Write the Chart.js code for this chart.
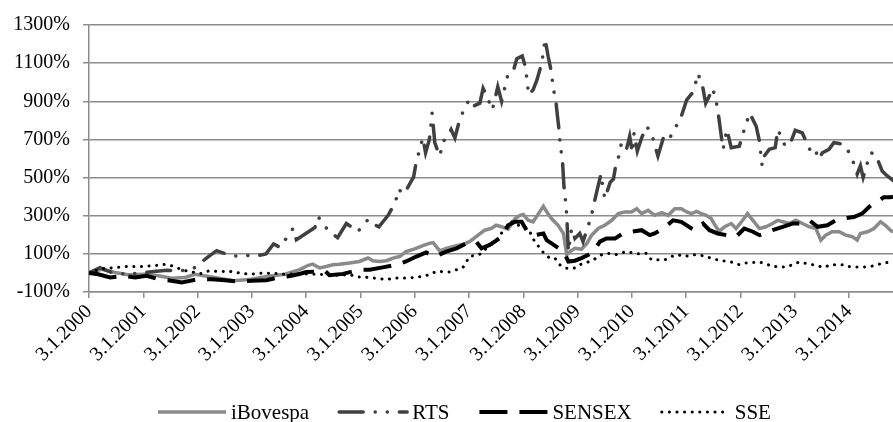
<!DOCTYPE html>
<html>
<head>
<meta charset="utf-8">
<script src="https://cdn.jsdelivr.net/npm/chart.js@4.4.1/dist/chart.umd.min.js"></script>
<style>
  body { margin: 0; background: #fff; }
  #wrap { width: 893px; height: 422px; position: relative; }
</style>
</head>
<body>
<div id="wrap"><canvas id="myChart"></canvas></div>
<script>
// series: [year as decimal, % change since 3.1.2000]
var seriesNames = ["iBovespa", "RTS", "SENSEX", "SSE"];
var tickYears = [2000, 2001, 2002, 2003, 2004, 2005, 2006, 2007, 2008, 2009, 2010, 2011, 2012, 2013, 2014];
var yTicks = [-100, 100, 300, 500, 700, 900, 1100, 1300];

var ibovespa = [[2000.00,0],[2000.23,19],[2000.48,2],[2000.72,-10],[2001.03,-7],[2001.28,-15],[2001.52,-28],[2001.77,-24],[2001.95,-7],[2002.26,-21],[2002.50,-33],[2002.66,-41],[2002.99,-33],[2003.36,-15],[2003.61,-7],[2003.88,17],[2004.04,40],[2004.12,46],[2004.25,26],[2004.37,34],[2004.49,43],[2004.61,46],[2004.80,52],[2004.98,60],[2005.14,78],[2005.23,64],[2005.35,60],[2005.48,64],[2005.60,78],[2005.72,86],[2005.84,112],[2006.00,126],[2006.15,143],[2006.27,155],[2006.34,159],[2006.46,116],[2006.58,129],[2006.70,138],[2006.89,150],[2007.01,164],[2007.13,190],[2007.29,224],[2007.41,233],[2007.50,250],[2007.60,242],[2007.72,230],[2007.85,285],[2007.94,302],[2008.00,306],[2008.09,276],[2008.18,268],[2008.28,311],[2008.37,349],[2008.43,320],[2008.52,285],[2008.64,250],[2008.74,207],[2008.80,95],[2008.86,112],[2008.95,129],[2009.07,124],[2009.17,155],[2009.26,198],[2009.38,233],[2009.50,250],[2009.63,276],[2009.75,311],[2009.87,320],[2009.99,320],[2010.09,337],[2010.18,311],[2010.30,328],[2010.42,302],[2010.55,316],[2010.67,302],[2010.79,337],[2010.91,337],[2011.01,320],[2011.10,311],[2011.19,323],[2011.28,311],[2011.37,302],[2011.46,285],[2011.55,242],[2011.61,219],[2011.71,242],[2011.83,259],[2011.92,233],[2012.04,276],[2012.13,311],[2012.23,276],[2012.35,233],[2012.47,242],[2012.59,259],[2012.69,276],[2012.78,268],[2012.90,259],[2013.02,276],[2013.14,259],[2013.27,242],[2013.39,233],[2013.48,172],[2013.57,198],[2013.69,216],[2013.82,216],[2013.94,198],[2014.06,190],[2014.15,172],[2014.21,207],[2014.34,216],[2014.46,233],[2014.58,268],[2014.67,250],[2014.76,224],[2014.81,215]];

var rts = [[2000.00,0],[2000.20,28],[2000.42,2],[2000.72,-7],[2001.03,2],[2001.43,14],[2001.67,10],[2001.83,19],[2001.95,28],[2002.17,79],[2002.35,117],[2002.50,102],[2002.66,88],[2002.87,93],[2003.06,88],[2003.26,100],[2003.40,152],[2003.52,134],[2003.76,234],[2003.82,174],[2004.16,238],[2004.22,294],[2004.31,262],[2004.40,224],[2004.58,185],[2004.74,259],[2004.86,237],[2004.95,216],[2005.14,280],[2005.20,259],[2005.34,242],[2005.51,302],[2005.63,363],[2005.72,440],[2005.75,415],[2005.84,432],[2005.98,504],[2006.02,570],[2006.09,648],[2006.15,708],[2006.20,630],[2006.27,700],[2006.32,838],[2006.37,682],[2006.46,613],[2006.53,691],[2006.61,717],[2006.67,752],[2006.74,708],[2006.83,807],[2006.92,864],[2007.00,907],[2007.07,873],[2007.20,890],[2007.26,968],[2007.32,933],[2007.43,855],[2007.53,976],[2007.60,900],[2007.72,1045],[2007.82,1063],[2007.88,1123],[2007.98,1137],[2008.04,1080],[2008.10,933],[2008.18,960],[2008.25,1011],[2008.34,1100],[2008.40,1227],[2008.46,1132],[2008.52,1050],[2008.55,971],[2008.60,900],[2008.63,820],[2008.66,746],[2008.68,669],[2008.72,596],[2008.75,449],[2008.78,371],[2008.80,302],[2008.83,112],[2008.89,233],[2008.95,181],[2009.04,207],[2009.10,164],[2009.20,250],[2009.27,320],[2009.35,423],[2009.43,518],[2009.50,389],[2009.60,475],[2009.66,492],[2009.70,558],[2009.76,613],[2009.81,683],[2009.90,648],[2009.96,717],[2010.01,630],[2010.04,734],[2010.10,639],[2010.18,708],[2010.27,769],[2010.36,734],[2010.48,613],[2010.58,708],[2010.67,691],[2010.79,760],[2010.88,795],[2011.01,907],[2011.13,950],[2011.22,1045],[2011.31,968],[2011.36,890],[2011.42,924],[2011.49,968],[2011.58,864],[2011.61,795],[2011.68,648],[2011.75,752],[2011.83,657],[2011.98,665],[2012.07,752],[2012.17,838],[2012.29,769],[2012.35,691],[2012.40,562],[2012.44,613],[2012.53,648],[2012.64,657],[2012.69,752],[2012.81,674],[2012.90,665],[2013.01,748],[2013.14,734],[2013.27,648],[2013.36,662],[2013.44,596],[2013.51,630],[2013.63,648],[2013.72,683],[2013.82,679],[2013.94,665],[2014.06,596],[2014.15,518],[2014.21,562],[2014.26,501],[2014.34,579],[2014.40,630],[2014.49,622],[2014.56,570],[2014.61,535],[2014.70,510],[2014.78,492],[2014.81,485]];

var sensex = [[2000.00,0],[2000.17,-7],[2000.39,-24],[2000.63,-15],[2000.85,-24],[2001.06,-15],[2001.28,-33],[2001.52,-41],[2001.71,-50],[2002.01,-33],[2002.26,-33],[2002.50,-38],[2002.75,-45],[2002.99,-41],[2003.27,-38],[2003.48,-24],[2003.73,-15],[2003.91,-3],[2004.00,5],[2004.25,8],[2004.34,12],[2004.43,-12],[2004.68,-5],[2004.98,17],[2005.17,17],[2005.41,29],[2005.66,43],[2005.84,60],[2006.03,86],[2006.21,107],[2006.37,86],[2006.58,112],[2006.77,129],[2006.95,155],[2007.13,164],[2007.23,129],[2007.38,147],[2007.56,181],[2007.64,205],[2007.72,250],[2007.85,268],[2007.97,268],[2008.06,224],[2008.21,198],[2008.37,207],[2008.43,172],[2008.52,155],[2008.74,112],[2008.83,60],[2008.95,64],[2009.07,78],[2009.20,95],[2009.29,112],[2009.41,164],[2009.53,181],[2009.69,181],[2009.84,207],[2009.99,216],[2010.18,224],[2010.33,198],[2010.42,207],[2010.58,233],[2010.76,276],[2010.91,268],[2011.10,233],[2011.16,224],[2011.31,259],[2011.43,224],[2011.58,207],[2011.74,198],[2011.92,190],[2012.07,233],[2012.23,216],[2012.35,198],[2012.59,224],[2012.78,242],[2012.96,259],[2013.14,259],[2013.27,276],[2013.42,242],[2013.60,250],[2013.76,276],[2013.88,285],[2014.09,293],[2014.24,311],[2014.40,354],[2014.52,371],[2014.64,397],[2014.76,397],[2014.81,400]];

var sse = [[2000.00,0],[2000.23,22],[2000.48,28],[2000.72,34],[2000.97,34],[2001.21,38],[2001.37,45],[2001.49,41],[2001.61,28],[2001.74,14],[2001.95,2],[2002.07,-3],[2002.20,10],[2002.44,7],[2002.56,10],[2002.72,2],[2002.96,-7],[2003.21,0],[2003.45,-3],[2003.61,-7],[2003.85,-3],[2004.00,-5],[2004.37,-9],[2004.58,-12],[2004.80,-9],[2004.95,-21],[2005.11,-23],[2005.35,-30],[2005.48,-35],[2005.63,-26],[2005.91,-26],[2006.03,-23],[2006.15,-18],[2006.27,-9],[2006.40,8],[2006.64,5],[2006.77,17],[2006.89,29],[2007.01,86],[2007.20,98],[2007.32,129],[2007.44,155],[2007.53,181],[2007.57,198],[2007.66,233],[2007.79,268],[2007.91,250],[2008.03,242],[2008.12,216],[2008.21,164],[2008.31,129],[2008.40,95],[2008.49,78],[2008.58,78],[2008.67,43],[2008.77,26],[2008.86,22],[2008.95,26],[2009.04,43],[2009.13,52],[2009.23,60],[2009.32,74],[2009.44,95],[2009.56,103],[2009.69,95],[2009.90,112],[2010.12,100],[2010.27,103],[2010.36,69],[2010.61,69],[2010.73,86],[2010.85,95],[2010.98,86],[2011.10,95],[2011.22,95],[2011.37,86],[2011.49,74],[2011.65,64],[2011.80,60],[2011.98,43],[2012.10,52],[2012.35,57],[2012.47,48],[2012.59,34],[2012.84,31],[2012.96,43],[2013.08,57],[2013.33,43],[2013.54,29],[2013.66,43],[2013.91,43],[2014.03,31],[2014.28,31],[2014.40,34],[2014.52,43],[2014.64,52],[2014.76,57],[2014.81,60]];

var FONT = "'Liberation Serif', 'Times New Roman', serif";
var GRID = "#8c8c8c";

function toPoints(arr) {
  return arr.map(function (p) { return { x: p[0], y: p[1] }; });
}

// legend drawn by hand so it can sit low and keep wide gaps
var bottomLegend = {
  id: "bottomLegend",
  afterDraw: function (chart) {
    var c = chart.ctx;
    var x = 158, y = 412, sample = 68;
    c.save();
    c.font = "21px " + FONT;
    c.textBaseline = "middle";
    c.fillStyle = "#000";
    chart.data.datasets.forEach(function (ds) {
      c.save();
      c.strokeStyle = ds.borderColor;
      c.lineWidth = ds.borderWidth;
      c.lineCap = ds.borderCapStyle;
      c.setLineDash(ds.borderDash || []);
      c.beginPath();
      c.moveTo(x, y);
      c.lineTo(x + sample, y);
      c.stroke();
      c.restore();
      x += sample + 5;
      c.fillText(ds.label, x, y + 1);
      x += c.measureText(ds.label).width + 30;
    });
    c.restore();
  }
};

var ctx = document.getElementById("myChart");
var chart = new Chart(ctx, {
  type: "line",
  data: {
    datasets: [
      {
        label: seriesNames[0],
        data: toPoints(ibovespa),
        borderColor: "#8a8a8a",
        borderWidth: 3.5,
        borderCapStyle: "butt",
        order: 4,
      },
      {
        label: seriesNames[1],
        data: toPoints(rts),
        borderColor: "#404040",
        borderWidth: 3.5,
        borderDash: [24, 12, 0.1, 12, 0.1, 12],
        borderCapStyle: "round",
        order: 3,
      },
      {
        label: seriesNames[2],
        data: toPoints(sensex),
        borderColor: "#000000",
        borderWidth: 4,
        borderDash: [28, 12],
        borderCapStyle: "butt",
        order: 2,
      },
      {
        label: seriesNames[3],
        data: toPoints(sse),
        borderColor: "#000000",
        borderWidth: 3,
        borderDash: [0.1, 7.5],
        borderCapStyle: "round",
        order: 1,
      },
    ],
  },
  options: {
    responsive: true,
    maintainAspectRatio: false,
    animation: false,
    layout: { padding: { top: 22, right: 0, bottom: 0, left: 0 } },
    elements: { point: { radius: 0 }, line: { tension: 0, fill: false } },
    plugins: {
      legend: { display: false },
      tooltip: { enabled: false },
    },
    scales: {
      x: {
        type: "linear",
        min: 2000,
        max: 2014.81,
        afterBuildTicks: function (scale) {
          scale.ticks = tickYears.map(function (v) { return { value: v }; });
        },
        afterFit: function (scale) {
          scale.height = 130;
        },
        grid: {
          drawOnChartArea: false,
          drawTicks: true,
          tickLength: 6,
          color: GRID,
          lineWidth: 1.5,
        },
        border: { display: true, color: GRID, width: 1.5 },
        ticks: {
          autoSkip: false,
          minRotation: 45,
          maxRotation: 45,
          padding: 2,
          color: "#000",
          font: { family: FONT, size: 20 },
          callback: function (v) { return "3.1." + v; },
        },
      },
      y: {
        min: -100,
        max: 1300,
        afterBuildTicks: function (scale) {
          scale.ticks = yTicks.map(function (v) { return { value: v }; });
        },
        afterFit: function (scale) {
          scale.width = 89;
        },
        grid: {
          color: GRID,
          lineWidth: 1.5,
          drawTicks: true,
          tickLength: 6,
        },
        border: { display: true, color: GRID, width: 1.5 },
        ticks: {
          padding: 13,
          color: "#000",
          font: { family: FONT, size: 20 },
          callback: function (v) { return v + "%"; },
        },
      },
    },
  },
  plugins: [bottomLegend],
});
</script>
</body>
</html>
